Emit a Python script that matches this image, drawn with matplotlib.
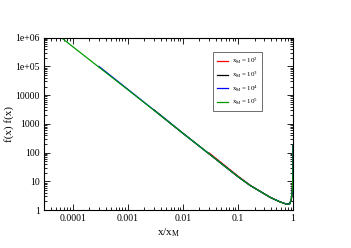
import matplotlib
matplotlib.use("Agg")
import matplotlib.pyplot as plt
from matplotlib.ticker import LogLocator, NullFormatter

# curves, one per x_M
x_red = [3e-2, 0.1, 0.166, 0.38, 0.57, 0.76, 0.87, 0.93, 0.97, 0.99, 0.997, 0.9995]
y_red = [97, 15.2, 7.3, 2.8, 1.95, 1.6, 1.65, 2.4, 5, 15, 50, 180]

x_black = [3e-3, 1e-2, 3e-2, 0.1, 0.166, 0.38, 0.57, 0.76, 0.87, 0.93, 0.97, 0.99, 0.997, 0.9995]
y_black = [3.05e3, 475, 90, 14.5, 7.2, 2.8, 1.95, 1.6, 1.65, 2.4, 5, 15, 50, 180]

x_blue = [3e-4, 1e-3, 3e-3, 1e-2, 3e-2, 0.1, 0.166, 0.38, 0.57, 0.76, 0.87, 0.93, 0.97, 0.99, 0.997, 0.9995]
y_blue = [1.0e5, 1.6e4, 3.0e3, 470, 90, 14.5, 7.2, 2.8, 1.95, 1.6, 1.65, 2.4, 5, 15, 50, 180]

x_green = [3e-5, 1e-4, 3e-4, 1e-3, 3e-3, 1e-2, 3e-2, 0.1, 0.166, 0.38, 0.57, 0.76, 0.87, 0.93, 0.97, 0.99, 0.997, 0.9995]
y_green = [3.0e6, 4.9e5, 9.4e4, 1.55e4, 2.95e3, 470, 90, 14.5, 7.2, 2.8, 1.95, 1.6, 1.65, 2.4, 5, 15, 50, 180]

labels = [r'$\mathregular{x_M = 10^2}$', r'$\mathregular{x_M = 10^3}$',
          r'$\mathregular{x_M = 10^4}$', r'$\mathregular{x_M = 10^5}$']

xticks = [1e-4, 1e-3, 1e-2, 1e-1, 1]
xticklabels = ['0.0001', '0.001', '0.01', '0.1', '1']
yticks = [1, 10, 100, 1000, 1e4, 1e5, 1e6]
yticklabels = ['1', '10', '100', '1000', '10000', '1e+05', '1e+06']

plt.rcParams['font.family'] = ['Liberation Serif', 'DejaVu Serif']

fig = plt.figure(figsize=(3.51, 2.48), dpi=100)
ax = fig.add_axes([0.125, 0.153, 0.71, 0.695])

ax.plot(x_red, y_red, color='red', lw=0.9, label=labels[0])
ax.plot(x_black, y_black, color='black', lw=0.9, label=labels[1])
ax.plot(x_blue, y_blue, color='blue', lw=0.9, label=labels[2])
ax.plot(x_green, y_green, color='#009a00', lw=0.9, label=labels[3])

ax.set_xscale('log')
ax.set_yscale('log')
ax.set_xlim(3e-5, 1)
ax.set_ylim(1, 1e6)

ax.set_xticks(xticks)
ax.set_xticklabels(xticklabels)
ax.set_yticks(yticks)
ax.set_yticklabels(yticklabels)
ax.xaxis.set_minor_locator(LogLocator(base=10, subs=range(2, 10)))
ax.yaxis.set_minor_locator(LogLocator(base=10, subs=range(2, 10)))
ax.xaxis.set_minor_formatter(NullFormatter())
ax.yaxis.set_minor_formatter(NullFormatter())

ax.tick_params(which='both', direction='in', top=True, right=True, labelsize=7, width=0.6)
ax.tick_params(which='major', length=4, pad=3)
ax.tick_params(which='minor', length=2)
for s in ax.spines.values():
    s.set_linewidth(0.8)

ax.set_xlabel(r'$\mathregular{x/x_M}$', fontsize=8, labelpad=2)
ax.set_ylabel('f(x) f(x)', fontsize=8, labelpad=1)

leg = ax.legend(loc='upper left', bbox_to_anchor=(0.68, 0.915), fontsize=5,
                frameon=True, fancybox=False, edgecolor='black', handlelength=1.5,
                handletextpad=0.6, labelspacing=0.5, borderpad=0.55, borderaxespad=0)
leg.get_frame().set_linewidth(0.5)

plt.savefig('out.png', dpi=100)
